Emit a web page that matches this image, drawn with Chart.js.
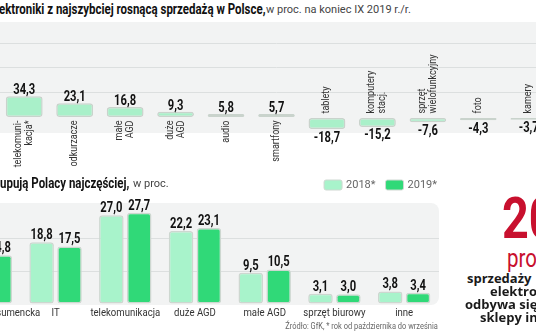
<!DOCTYPE html>
<html>
<head>
<meta charset="utf-8">
<script src="https://cdn.jsdelivr.net/npm/chart.js@4"></script>
<style>
  body { margin:0; width:536px; height:332px; overflow:hidden; position:relative; background:#fff; font-family:Roboto, sans-serif; }
  .abs { position:absolute; white-space:nowrap; }
  .sq { transform:scaleX(0.82); transform-origin:left center; }
  .hb { font-weight:bold; font-size:14px; line-height:16px; color:#111; }
  .hr { font-size:11px; line-height:16px; color:#444; }
  .big { color:#c8102e; }
  .note { font-family:'Open Sans', sans-serif; font-weight:bold; font-size:13px; line-height:13px; color:#1a1a1a; }
</style>
</head>
<body>
<div class="abs hb sq" style="left:-1px; top:1px">ektroniki z najszybciej rosnącą sprzedażą w Polsce,</div>
<div class="abs hr" style="left:266px; top:2px">w proc. na koniec IX 2019 r./r.</div>
<div class="abs" style="left:-1px; top:22px; width:555px; height:156px"><canvas id="growth"></canvas></div>

<div class="abs hb sq" style="left:0; top:175px">upują Polacy najczęściej,</div>
<div class="abs hr" style="left:133px; top:176px">w proc.</div>
<div class="abs" style="left:-49px; top:170px; width:488px; height:162px"><canvas id="share"></canvas></div>
<div class="abs" style="right:98px; top:320px; font-size:9px; line-height:12px; color:#666; transform:scaleX(0.83); transform-origin:right center">Źródło: GfK, * rok od października do września</div>

<div class="abs big sq" style="left:502px; top:190px; font-size:57px; line-height:57px; font-weight:bold">20</div>
<div class="abs big sq" style="left:507px; top:246px; font-size:25px; line-height:25px">proc.</div>
<div class="abs note" style="left:467px; top:272px">sprzedaży</div>
<div class="abs note" style="left:490px; top:285px">elektroniki</div>
<div class="abs note" style="left:465px; top:298px">odbywa się przez</div>
<div class="abs note" style="left:480px; top:311px">sklepy internetowe</div>

<script>
// top chart: growth of sales, % y/y
const growthCats = [['telekomuni-', 'kacja*'], 'odkurzacze', ['małe', 'AGD'], ['duże', 'AGD'], 'audio', 'smartfony',
  'tablety', ['komputery', 'stacj.'], ['sprzęt', 'wielofunkcyjny'], 'foto', 'kamery'];
const growthValues = [34.3, 23.1, 16.8, 9.3, 5.8, 5.7, -18.7, -15.2, -7.6, -4.3, -3.7];
const growthTicks = [40, 80, 120];

// bottom chart: share of sales, %
const shareCats = ['elektronika konsumencka', 'IT', 'telekomunikacja', 'duże AGD', 'małe AGD', 'sprzęt biurowy', 'inne'];
const seriesLabels = ['2018*', '2019*'];
const share2018 = [15.9, 18.8, 27.0, 22.2, 9.5, 3.1, 3.8];
const share2019 = [14.8, 17.5, 27.7, 23.1, 10.5, 3.0, 3.4];
const shareTicks = [10, 20];

const numFont = 'bold 14px Roboto, sans-serif';
const fmt = v => v.toFixed(1).replace('.', ',');

// text squeezed horizontally, the paper uses a condensed face
function narrowText(ctx, text, x, y, sx) {
  ctx.save();
  ctx.translate(x, y);
  ctx.scale(sx, 1);
  ctx.fillText(text, 0, 0);
  ctx.restore();
}

// gray panel behind the plot area
const panelBg = {
  id: 'panelBg',
  beforeDraw(chart, args, opts) {
    const {ctx, chartArea: a} = chart;
    ctx.save();
    ctx.fillStyle = opts.color;
    ctx.beginPath();
    ctx.roundRect(a.left, a.top, a.width, a.height + (opts.extra || 0), opts.radius || 0);
    ctx.fill();
    ctx.restore();
  }
};

const growthLabels = {
  id: 'growthLabels',
  afterDatasetsDraw(chart) {
    const ctx = chart.ctx;
    const zero = chart.scales.y.getPixelForValue(0);
    ctx.save();
    chart.getDatasetMeta(0).data.forEach((bar, i) => {
      const v = growthValues[i];
      ctx.font = numFont;
      ctx.fillStyle = '#111';
      ctx.textAlign = 'center';
      ctx.textBaseline = 'middle';
      narrowText(ctx, fmt(v), bar.x, v >= 0 ? bar.y - 5.5 : bar.y + 9, 0.8);

      const lines = [].concat(growthCats[i]);
      ctx.save();
      ctx.translate(bar.x, v >= 0 ? zero + 3 : zero - 4);
      ctx.rotate(-Math.PI / 2);
      ctx.textAlign = v >= 0 ? 'right' : 'left';
      ctx.font = '10px Roboto, sans-serif';
      ctx.fillStyle = '#333';
      lines.forEach((t, k) => narrowText(ctx, t, 0, (k - (lines.length - 1) / 2) * 11, 0.9));
      ctx.restore();
    });
    ctx.restore();
  }
};

const shareLabels = {
  id: 'shareLabels',
  afterDatasetsDraw(chart) {
    const ctx = chart.ctx;
    const a = chart.chartArea;
    ctx.save();
    ctx.textAlign = 'center';
    ctx.textBaseline = 'middle';
    ctx.font = numFont;
    ctx.fillStyle = '#111';
    chart.data.datasets.forEach((ds, d) => {
      chart.getDatasetMeta(d).data.forEach((bar, i) => {
        narrowText(ctx, fmt(ds.data[i]), bar.x, bar.y - 6.5, 0.8);
      });
    });
    ctx.font = '11px Roboto, sans-serif';
    ctx.fillStyle = '#333';
    shareCats.forEach((c, i) => narrowText(ctx, c, chart.scales.x.getPixelForValue(i), a.bottom + 9.5, 0.87));

    // legend, right aligned above the panel
    ctx.font = '11px Roboto, sans-serif';
    ctx.textAlign = 'left';
    let x = a.right - 2;
    const y = a.top - 18;
    for (let d = chart.data.datasets.length - 1; d >= 0; d--) {
      const ds = chart.data.datasets[d];
      x -= ctx.measureText(ds.label).width;
      ctx.fillStyle = '#666';
      ctx.fillText(ds.label, x, y);
      x -= 22;
      ctx.fillStyle = ds.backgroundColor;
      ctx.strokeStyle = '#cfd8d2';
      ctx.lineWidth = 1;
      ctx.beginPath();
      ctx.roundRect(x, y - 5, 18, 10, 2);
      ctx.fill();
      ctx.stroke();
      x -= 10;
    }
    ctx.restore();
  }
};

new Chart(document.getElementById('growth'), {
  type: 'bar',
  data: {
    labels: growthCats,
    datasets: [{
      data: growthValues,
      backgroundColor: '#a9f0c9',
      borderColor: '#c9d3cc',
      borderWidth: 1.5,
      borderRadius: 3,
      borderSkipped: false,
      barPercentage: 0.73,
      categoryPercentage: 1
    }]
  },
  options: {
    responsive: true,
    maintainAspectRatio: false,
    animation: false,
    layout: { padding: { top: 0, bottom: 45, left: 0, right: 0 } },
    plugins: {
      legend: { display: false },
      tooltip: { enabled: false },
      panelBg: { color: '#f2f3f3' }
    },
    scales: {
      x: { display: false },
      y: {
        min: -25, max: 154,
        ticks: { display: false, stepSize: 40 },
        border: { display: false },
        grid: { drawTicks: false, lineWidth: 1, color: c => growthTicks.includes(c.tick.value) ? '#dcdfdf' : 'rgba(0,0,0,0)' }
      }
    }
  },
  plugins: [panelBg, growthLabels]
});

new Chart(document.getElementById('share'), {
  type: 'bar',
  data: {
    labels: shareCats,
    datasets: [
      { label: seriesLabels[0], data: share2018, backgroundColor: '#a8f3cb' },
      { label: seriesLabels[1], data: share2019, backgroundColor: '#30d978' }
    ].map(ds => Object.assign(ds, {
      borderColor: '#cdd7d0', borderWidth: 1.5, borderRadius: 3, borderSkipped: false,
      barPercentage: 0.88, categoryPercentage: 0.8
    }))
  },
  options: {
    responsive: true,
    maintainAspectRatio: false,
    animation: false,
    layout: { padding: { top: 33, bottom: 28, left: 0, right: 0 } },
    plugins: {
      legend: { display: false },
      tooltip: { enabled: false },
      panelBg: { color: '#f2f3f3', radius: [0, 8, 8, 0], extra: 1 }
    },
    scales: {
      x: { display: false },
      y: {
        min: 0, max: 30.7,
        ticks: { display: false, stepSize: 10 },
        border: { display: false },
        grid: { drawTicks: false, lineWidth: 1, color: c => shareTicks.includes(c.tick.value) ? '#dcdfdf' : 'rgba(0,0,0,0)' }
      }
    }
  },
  plugins: [panelBg, shareLabels]
});
</script>
</body>
</html>
